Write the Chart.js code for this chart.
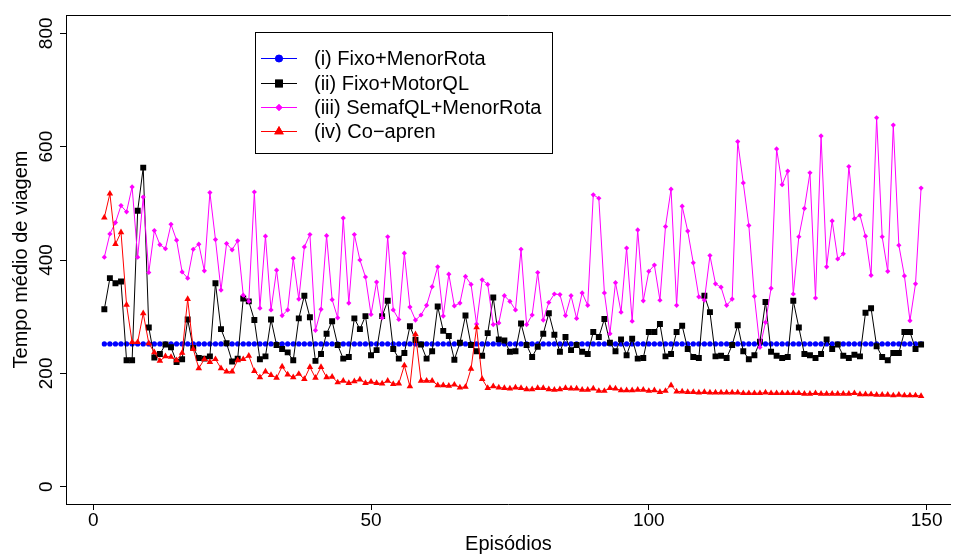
<!DOCTYPE html>
<html>
<head>
<meta charset="utf-8">
<script src="https://cdn.jsdelivr.net/npm/chart.js@4/dist/chart.umd.min.js"></script>
<style>
  html, body { margin: 0; padding: 0; background: #fff; overflow: hidden; }
  #wrap { width: 955px; height: 558px; }
</style>
</head>
<body>
<div id="wrap"><canvas id="c" width="955" height="558"></canvas></div>
<script>
// ---- data ----
const firstEpisode = 2;
const lastEpisode = 149;
const episodes = [];
for (let e = firstEpisode; e <= lastEpisode; e++) episodes.push(e);

const seriesLabels = [
  "(i) Fixo+MenorRota",
  "(ii) Fixo+MotorQL",
  "(iii) SemafQL+MenorRota",
  "(iv) Co\u2212apren"
];

const fixoMenorRota = [
  252,252,252,252,252,252,252,252,252,252,
  252,252,252,252,252,252,252,252,252,252,
  252,252,252,252,252,252,252,252,252,252,
  252,252,252,252,252,252,252,252,252,252,
  252,252,252,252,252,252,252,252,252,252,
  252,252,252,252,252,252,252,252,252,252,
  252,252,252,252,252,252,252,252,252,252,
  252,252,252,252,252,252,252,252,252,252,
  252,252,252,252,252,252,252,252,252,252,
  252,252,252,252,252,252,252,252,252,252,
  252,252,252,252,252,252,252,252,252,252,
  252,252,252,252,252,252,252,252,252,252,
  252,252,252,252,252,252,252,252,252,252,
  252,252,252,252,252,252,252,252,252,252,
  252,252,252,252,252,252,252,252
];

const fixoMotorQL = [
  313,368,359,362,223,223,487,563,281,228,
  234,251,246,220,225,295,245,227,226,230,
  359,278,253,221,226,332,327,294,225,230,
  295,250,243,237,223,297,337,299,222,234,
  270,292,250,226,229,297,278,301,232,241,
  301,328,243,226,236,283,259,251,226,239,
  318,275,266,224,254,302,250,239,231,271,
  334,260,258,238,239,288,250,229,247,270,
  306,268,238,264,241,250,238,234,273,264,
  296,254,239,260,232,261,226,227,273,273,
  287,230,234,273,284,243,229,227,337,308,
  230,231,227,250,285,239,225,232,256,326,
  238,231,227,229,328,281,234,232,227,234,
  260,243,251,231,227,233,230,307,315,248,
  229,223,236,236,273,273,243,251
];

const semafQLMenorRota = [
  405,446,466,496,485,529,405,511,378,452,
  427,420,463,435,379,368,419,428,381,519,
  436,347,429,418,434,338,327,520,315,442,
  312,382,302,312,403,331,423,445,276,313,
  443,330,298,474,324,445,400,370,304,361,
  298,441,312,295,412,317,294,303,320,353,
  388,301,375,319,324,371,357,287,365,357,
  286,289,337,327,312,419,286,303,378,294,
  325,340,339,302,337,297,342,320,515,509,
  342,270,360,308,421,292,453,328,380,391,
  329,459,525,320,495,451,395,335,329,408,
  358,352,320,331,609,536,461,336,246,290,
  350,596,533,557,340,441,491,554,333,619,
  388,469,402,411,565,473,479,442,373,651,
  441,380,638,426,372,293,358,527
];

const coApren = [
  475,517,428,449,321,255,255,306,253,237,
  222,230,229,223,236,331,243,209,225,220,
  225,209,203,203,223,225,231,204,193,203,
  197,192,212,198,193,199,190,211,192,211,
  193,194,184,187,183,186,189,183,185,183,
  182,187,181,182,214,177,269,187,187,187,
  179,179,178,180,175,176,208,281,190,174,
  177,175,174,173,175,174,172,172,174,174,
  172,171,172,174,173,173,171,171,173,169,
  169,174,173,170,170,170,171,171,169,170,
  167,169,179,168,168,167,167,166,167,166,
  166,166,166,166,166,165,165,165,165,166,
  165,165,165,165,165,165,164,164,165,164,
  164,164,164,164,164,165,163,163,163,162,
  162,162,161,162,161,161,161,160
];

const xTickValues = [0, 50, 100, 150];
const yTickValues = [0, 200, 400, 600, 800];
const xTitle = "Episódios";
const yTitle = "Tempo médio de viagem";

// ---- chart ----
const FONT = "'Liberation Sans', Arial, Helvetica, sans-serif";
const toXY = arr => arr.map((v, i) => ({ x: episodes[i], y: v }));

const styles = [
  { color: '#0000FF', pointStyle: 'circle',   radius: 2.6, order: 4 },
  { color: '#000000', pointStyle: 'rect',     radius: 4.2, order: 3 },
  { color: '#FF00FF', pointStyle: 'rectRot',  radius: 2.6, order: 2 },
  { color: '#FF0000', pointStyle: 'triangle', radius: 3.8, order: 1 }
];
const seriesData = [fixoMenorRota, fixoMotorQL, semafQLMenorRota, coApren];

const datasets = seriesData.map((d, i) => ({
  label: seriesLabels[i],
  data: toXY(d),
  borderColor: styles[i].color,
  backgroundColor: styles[i].color,
  pointBackgroundColor: styles[i].color,
  pointBorderColor: styles[i].color,
  pointBorderWidth: 0,
  borderWidth: 1,
  pointStyle: styles[i].pointStyle,
  pointRadius: styles[i].radius,
  pointHoverRadius: styles[i].radius,
  order: styles[i].order,
  tension: 0
}));

const boxPlugin = {
  id: 'boxAndLegend',
  afterDraw(chart) {
    const ctx = chart.ctx;
    const a = chart.chartArea;
    ctx.save();
    // top border of plot box
    ctx.strokeStyle = '#000';
    ctx.lineWidth = 1;
    ctx.beginPath();
    ctx.moveTo(a.left, Math.round(a.top) + 0.5);
    ctx.lineTo(a.right, Math.round(a.top) + 0.5);
    ctx.stroke();

    // legend
    const lx = 255.5, ly = 32.5, lw = 297, lh = 121;
    ctx.fillStyle = '#fff';
    ctx.fillRect(lx, ly, lw, lh);
    ctx.strokeRect(lx, ly, lw, lh);
    const rowY = [58, 83, 107, 131];
    chart.data.datasets.forEach((ds, i) => {
      const y = rowY[i];
      ctx.strokeStyle = ds.borderColor;
      ctx.lineWidth = 1;
      ctx.beginPath();
      ctx.moveTo(261, y + 0.5);
      ctx.lineTo(297, y + 0.5);
      ctx.stroke();
      const r = ds.pointStyle === 'rect' ? 5.5 : ds.pointStyle === 'triangle' ? 5.5 : ds.pointStyle === 'rectRot' ? 3.5 : 3.8;
      ctx.fillStyle = ds.borderColor;
      Chart.helpers.drawPoint(ctx, { pointStyle: ds.pointStyle, radius: r, rotation: 0, borderWidth: 0 }, 279, y + 0.5);
      ctx.fill();
      ctx.fillStyle = '#000';
      ctx.font = '20px ' + FONT;
      ctx.textAlign = 'left';
      ctx.textBaseline = 'middle';
      ctx.fillText(ds.label, 314, y + 1);
    });
    ctx.restore();
  }
};

new Chart(document.getElementById('c'), {
  type: 'line',
  data: { datasets },
  options: {
    responsive: false,
    animation: false,
    devicePixelRatio: 1,
    layout: { padding: { top: 15, right: 0, left: 0, bottom: 0 } },
    plugins: { legend: { display: false }, tooltip: { enabled: false } },
    scales: {
      x: {
        type: 'linear',
        min: -4.9,
        max: 154.35,
        afterBuildTicks: s => { s.ticks = xTickValues.map(v => ({ value: v })); },
        afterFit: s => { s.height = 54; },
        grid: { drawOnChartArea: false, drawTicks: true, tickLength: 6, color: '#000' },
        border: { display: true, color: '#000', width: 1 },
        ticks: { color: '#000', font: { family: FONT, size: 19 }, padding: -1, maxRotation: 0, autoSkip: false },
        title: { display: true, text: xTitle, color: '#000', font: { family: FONT, size: 20 }, padding: { top: 0, bottom: 1.5 } }
      },
      y: {
        type: 'linear',
        min: -30.5,
        max: 832.3,
        afterBuildTicks: s => { s.ticks = yTickValues.map(v => ({ value: v })); },
        afterFit: s => { s.width = 66; },
        grid: { drawOnChartArea: false, drawTicks: true, tickLength: 6, color: '#000' },
        border: { display: true, color: '#000', width: 1 },
        ticks: { color: '#000', font: { family: FONT, size: 19 }, padding: -2.5, minRotation: 90, maxRotation: 90, crossAlign: 'center', autoSkip: false },
        title: { display: true, text: yTitle, color: '#000', font: { family: FONT, size: 20 }, padding: { top: 9, bottom: 0 } }
      }
    }
  },
  plugins: [boxPlugin]
});
</script>
</body>
</html>
